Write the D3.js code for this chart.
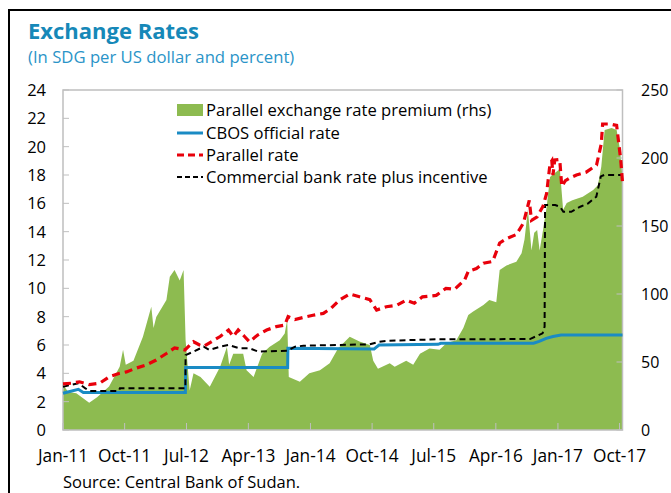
<!DOCTYPE html>
<html><head><meta charset="utf-8">
<script src="https://cdn.jsdelivr.net/npm/d3@7"></script>
<style>body{margin:0;background:#fff}svg{display:block}text{font-family:"Open Sans",sans-serif}</style>
</head><body><svg id="c" width="671" height="493"></svg>
<script>
const title = "Exchange Rates";
const subtitle = "(In SDG per US dollar and percent)";
const source = "Source: Central Bank of Sudan.";
const seriesNames = ["Parallel exchange rate premium (rhs)","CBOS official rate","Parallel rate","Commercial bank rate plus incentive"];
const leftTicks = [0,2,4,6,8,10,12,14,16,18,20,22,24];
const rightTicks = [0,50,100,150,200,250];
const xTickDates = ["2011-01-01","2011-10-01","2012-07-01","2013-04-01","2014-01-01","2014-10-01","2015-07-01","2016-04-01","2017-01-01","2017-10-01"];
const xTickLabels = ["Jan-11","Oct-11","Jul-12","Apr-13","Jan-14","Oct-14","Jul-15","Apr-16","Jan-17","Oct-17"];

const premiumDates = ["2011-01-01","2011-01-25","2011-03-01","2011-04-27","2011-06-01","2011-07-24","2011-09-09","2011-09-24","2011-10-06","2011-11-09","2011-12-21","2012-01-27","2012-02-06","2012-02-18","2012-04-03","2012-04-18","2012-05-09","2012-06-01","2012-06-18","2012-06-27","2012-07-15","2012-08-01","2012-09-01","2012-10-12","2012-11-27","2012-12-27","2013-01-06","2013-01-24","2013-03-09","2013-03-24","2013-04-24","2013-06-01","2013-07-03","2013-08-18","2013-09-09","2013-09-20","2013-09-27","2013-11-15","2013-12-27","2014-02-12","2014-03-27","2014-05-03","2014-06-24","2014-08-06","2014-09-21","2014-10-06","2014-10-27","2014-12-18","2015-01-09","2015-03-01","2015-04-01","2015-05-01","2015-06-12","2015-07-27","2015-08-27","2015-10-09","2015-11-09","2015-12-01","2015-12-21","2016-02-06","2016-03-03","2016-04-03","2016-04-18","2016-05-18","2016-07-01","2016-07-24","2016-08-06","2016-08-21","2016-09-06","2016-09-18","2016-10-01","2016-10-12","2016-10-27","2016-11-12","2016-11-27","2016-12-18","2017-01-03","2017-01-09","2017-01-24","2017-02-09","2017-03-06","2017-04-21","2017-06-06","2017-06-27","2017-07-12","2017-07-27","2017-08-27","2017-09-18","2017-10-03","2017-10-14"];
const premiumValues = [33,28,27,20,24,32,46.5,59,48,51,68.6,90.7,75,83,95.6,112.7,117.6,110,117.6,66,29,41.7,39,31.8,46.5,61,48,56,56,44,39,56,61,66,71,81,39,35.5,41.7,44,49,60,68.6,65,62.5,51,45,49,46.5,51,48,56,60,59,64,66,75,84.5,87,92,95.6,94,117.6,121,123.7,130,140,162,132,145,147,132,147,164,186,189,191,193,162,167,169,171.5,176.5,180,193.6,220.6,222,220.6,206,186];

const officialDates = ["2011-01-01","2011-03-10","2011-04-01","2012-06-26","2012-06-27","2013-09-22","2013-09-23","2014-10-10","2014-10-20","2014-11-01","2015-07-20","2015-08-01","2016-09-15","2016-10-10","2016-11-10","2016-12-10","2017-01-15","2017-10-14"];
const officialValues = [2.59,2.87,2.65,2.65,4.42,4.42,5.77,5.72,5.85,6.0,6.05,6.12,6.12,6.25,6.47,6.6,6.7,6.7];

const parallelDates = ["2011-01-01","2011-02-06","2011-03-15","2011-04-27","2011-06-12","2011-07-24","2011-09-09","2011-10-09","2011-11-21","2012-01-06","2012-02-18","2012-04-03","2012-05-09","2012-06-24","2012-08-01","2012-08-28","2012-09-15","2012-11-27","2013-01-03","2013-01-24","2013-02-15","2013-03-15","2013-04-06","2013-05-12","2013-06-21","2013-08-03","2013-09-09","2013-09-24","2013-10-24","2013-12-01","2014-01-12","2014-02-27","2014-04-03","2014-05-09","2014-06-24","2014-08-06","2014-09-21","2014-10-21","2014-12-03","2015-01-18","2015-03-01","2015-04-06","2015-05-12","2015-07-12","2015-08-24","2015-10-01","2015-11-15","2015-12-01","2016-01-06","2016-02-06","2016-03-18","2016-04-18","2016-05-18","2016-07-01","2016-08-01","2016-08-27","2016-09-06","2016-10-01","2016-10-27","2016-11-12","2016-11-27","2016-12-05","2016-12-10","2016-12-18","2017-01-09","2017-01-18","2017-02-03","2017-02-24","2017-03-24","2017-05-06","2017-06-21","2017-07-12","2017-07-18","2017-08-18","2017-09-18","2017-10-06","2017-10-14"];
const parallelValues = [3.25,3.3,3.4,3.2,3.3,3.75,4.0,4.1,4.37,4.6,4.94,5.4,5.8,5.65,6.23,6.0,5.9,6.6,7.06,6.6,7.06,6.6,6.23,6.7,7.06,7.3,7.4,8.0,7.8,7.95,8.1,8.23,8.6,9.17,9.6,9.4,9.2,8.47,8.7,8.8,9.17,8.95,9.4,9.5,10.0,9.93,10.6,11.2,11.4,11.77,11.9,13.2,13.5,13.8,14.6,16.2,14.8,15.05,15.8,16.7,18.8,19.0,18.0,19.06,19.1,17.2,17.6,17.8,18.0,18.2,18.7,20.2,21.6,21.6,21.5,19.1,17.5];

const commercialDates = ["2011-01-01","2011-03-10","2011-04-10","2011-05-01","2011-09-05","2011-09-10","2012-06-26","2012-06-27","2012-08-01","2012-09-15","2012-10-10","2012-11-27","2013-01-03","2013-02-20","2013-04-06","2013-05-15","2013-09-20","2013-10-25","2013-12-01","2014-09-21","2014-11-01","2014-12-10","2015-07-12","2016-08-30","2016-10-25","2016-11-03","2016-11-05","2016-12-20","2017-01-10","2017-01-25","2017-03-01","2017-04-10","2017-05-15","2017-06-20","2017-07-10","2017-07-25","2017-10-14"];
const commercialValues = [3.06,3.3,2.94,2.75,2.75,2.94,2.94,5.29,5.53,5.88,5.65,5.88,6.0,5.77,5.77,5.53,5.6,5.88,5.95,6.05,6.23,6.3,6.4,6.42,6.82,7.3,15.88,15.88,15.76,15.4,15.4,15.76,16.0,16.47,17.9,18.0,18.0];

const parse = d3.timeParse("%Y-%m-%d");
const zip = (ds, vs) => ds.map((d,i)=>({date:parse(d), value:vs[i]}));

const svg = d3.select("#c");
const L=63, R=622.5, T=90, B=430;
const x = d3.scaleTime().domain([parse("2011-01-01"), parse("2017-10-14")]).range([L,R]);
const yL = d3.scaleLinear().domain([0,24]).range([B,T]);
const yR = d3.scaleLinear().domain([0,250]).range([B,T]);

// outer frame
svg.append("rect").attr("x",9).attr("y",10).attr("width",700).attr("height",520)
  .attr("fill","none").attr("stroke","#000").attr("stroke-width",2);

svg.append("text").attr("x",28).attr("y",38.5).text(title)
  .attr("font-size",22).attr("font-weight","bold").attr("fill","#1688b8");
svg.append("text").attr("x",28).attr("y",63).text(subtitle)
  .attr("font-size",16.7).attr("fill","#2a94c8");

// premium area
const area = d3.area().x(d=>x(d.date)).y0(B).y1(d=>yR(d.value));
svg.append("path").datum(zip(premiumDates,premiumValues)).attr("d",area).attr("fill","#8dbb50");

// frame of plot
svg.append("rect").attr("x",L).attr("y",T).attr("width",R-L).attr("height",B-T)
  .attr("fill","none").attr("stroke","#bfbfbf").attr("stroke-width",1.5);

const gridColor="#bfbfbf";
leftTicks.forEach(t=>{
  svg.append("line").attr("x1",L).attr("x2",L+6).attr("y1",yL(t)).attr("y2",yL(t)).attr("stroke",gridColor);
  svg.append("text").attr("x",46).attr("y",yL(t)+6).attr("text-anchor","end").attr("font-size",16.5).attr("fill","#000").text(t);
});
rightTicks.forEach(t=>{
  svg.append("line").attr("x1",R-6).attr("x2",R).attr("y1",yR(t)).attr("y2",yR(t)).attr("stroke",gridColor);
  svg.append("text").attr("x",641).attr("y",yR(t)+6).attr("text-anchor","start").attr("font-size",16).attr("fill","#000").text(t);
});
xTickDates.forEach((d,i)=>{
  const xx = x(parse(d));
  svg.append("line").attr("x1",xx).attr("x2",xx).attr("y1",B).attr("y2",B-7).attr("stroke",gridColor);
  svg.append("text").attr("x",xx).attr("y",462).attr("text-anchor","middle").attr("font-size",17.3).attr("fill","#000").text(xTickLabels[i]);
});

const lineL = d3.line().x(d=>x(d.date)).y(d=>yL(d.value));
svg.append("path").datum(zip(officialDates,officialValues)).attr("d",lineL)
  .attr("fill","none").attr("stroke","#1a8bc4").attr("stroke-width",3);
svg.append("path").datum(zip(commercialDates,commercialValues)).attr("d",lineL)
  .attr("fill","none").attr("stroke","#000").attr("stroke-width",2).attr("stroke-dasharray","6,4");
svg.append("path").datum(zip(parallelDates,parallelValues)).attr("d",lineL)
  .attr("fill","none").attr("stroke","#e8000b").attr("stroke-width",3.2).attr("stroke-dasharray","8,5");

// legend
const lx0=177, lx1=203, ly=[110,133,155,177];
svg.append("rect").attr("x",lx0).attr("y",ly[0]-6).attr("width",lx1-lx0).attr("height",12).attr("fill","#8dbb50");
svg.append("line").attr("x1",lx0).attr("x2",lx1).attr("y1",ly[1]).attr("y2",ly[1]).attr("stroke","#1a8bc4").attr("stroke-width",3);
svg.append("line").attr("x1",lx0).attr("x2",lx1).attr("y1",ly[2]).attr("y2",ly[2]).attr("stroke","#e8000b").attr("stroke-width",3).attr("stroke-dasharray","7,4");
svg.append("line").attr("x1",lx0).attr("x2",lx1).attr("y1",ly[3]).attr("y2",ly[3]).attr("stroke","#000").attr("stroke-width",2).attr("stroke-dasharray","5,3");
seriesNames.forEach((n,i)=>{
  svg.append("text").attr("x",206).attr("y",ly[i]+6).attr("font-size",16.6).attr("fill","#000").text(n);
});

svg.append("text").attr("x",63).attr("y",488).attr("font-size",16.5).attr("fill","#000").text(source);
</script></body></html>
